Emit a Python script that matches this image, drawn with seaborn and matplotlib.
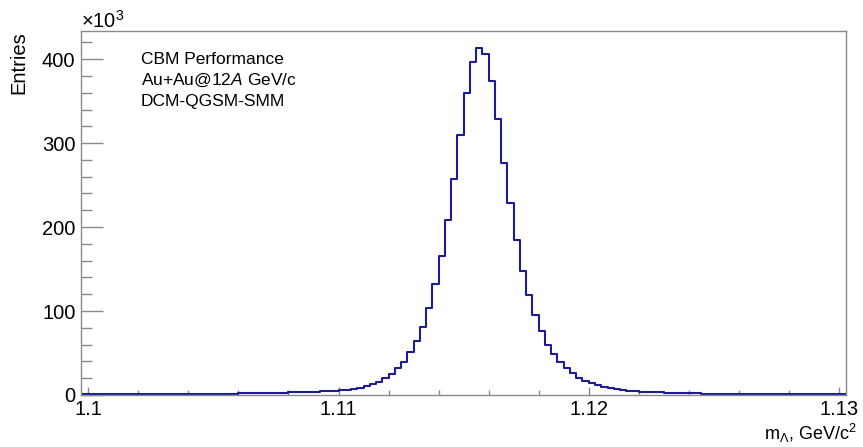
import numpy as np
import pandas as pd
import matplotlib
matplotlib.use("Agg")
import matplotlib.pyplot as plt
from matplotlib.ticker import MultipleLocator, FixedLocator
import seaborn as sns

# ---- data (entries in units of 10^3), bin width 0.00025 GeV/c^2 ----
bin_lo = 1.09975
bin_hi = 1.13025
entries_k = [
    0.6,
    0.6, 0.6, 0.7, 0.7, 0.7, 0.8, 0.8, 0.8, 0.9, 0.9,
    1.0, 1.0, 1.0, 1.1, 1.1, 1.2, 1.2, 1.3, 1.3, 1.4,
    1.5, 1.5, 1.6, 1.7, 1.8, 1.9, 2.0, 2.1, 2.3, 2.5,
    2.7, 2.9, 3.1, 3.3, 3.5, 3.8, 4.0, 4.3, 4.6, 5.0, 5.5, 6.1,
    6.8, 8.7, 10.3, 12.7, 15.8, 20.2, 25.4, 32.5, 39.7, 50.8, 64.3, 81.3,
    104.0, 131.8, 165.0, 208.0, 256.8, 309.5, 360.0, 396.8, 413.0,
    406.0, 374.0, 329.0, 276.5, 229.0, 184.5, 148.0, 119.0, 94.9, 75.8,
    59.9, 48.4, 38.9, 31.8, 25.8, 20.6, 17.0, 13.9, 11.5, 9.9, 8.3, 7.1, 6.0,
    5.2, 4.6, 4.1, 3.7, 3.3, 3.0, 2.7, 2.5, 2.3, 2.1, 1.9, 1.8, 1.7, 1.6,
    1.5, 1.4, 1.3, 1.2, 1.2, 1.1, 1.1, 1.0, 1.0, 0.9, 0.9, 0.9, 0.8, 0.8,
    0.8, 0.7, 0.7, 0.7, 0.7, 0.6,
    0.6,
]
x_ticks = [1.10, 1.11, 1.12, 1.13]
x_tick_labels = ["1.1", "1.11", "1.12", "1.13"]
y_ticks = [0, 100, 200, 300, 400]
info_lines = ["CBM Performance", r"Au+Au@12$\mathit{A}$ GeV/c", "DCM-QGSM-SMM"]

n_bins = len(entries_k)
edges = np.linspace(bin_lo, bin_hi, n_bins + 1)
centers = 0.5 * (edges[:-1] + edges[1:])
df = pd.DataFrame({"m": centers, "entries": entries_k})

plt.rcParams["font.family"] = ["Liberation Sans", "DejaVu Sans"]
plt.rcParams["mathtext.fontset"] = "custom"
plt.rcParams["mathtext.rm"] = "Liberation Sans"
plt.rcParams["mathtext.it"] = "Liberation Sans:italic"
plt.rcParams["mathtext.bf"] = "Liberation Sans:bold"

W, H = 863, 447
fig = plt.figure(figsize=(W / 100, H / 100), dpi=100)
L, R, T, B = 81, 846, 31, 395
ax = fig.add_axes([L / W, 1 - B / H, (R - L) / W, (B - T) / H])

sns.histplot(data=df, x="m", weights="entries", bins=n_bins,
             binrange=(bin_lo, bin_hi), element="step", fill=False,
             color="#1c1c96", linewidth=1.5, ax=ax)

ax.set_xlim(1.09971, 1.13028)
ax.set_ylim(0, 433.5)

axis_gray = "#8a8a8a"
for s in ax.spines.values():
    s.set_color(axis_gray)
    s.set_linewidth(1.0)

ax.xaxis.set_major_locator(FixedLocator(x_ticks))
ax.set_xticklabels(x_tick_labels)
ax.xaxis.set_minor_locator(MultipleLocator(0.002))
ax.set_yticks(y_ticks)
ax.yaxis.set_minor_locator(MultipleLocator(20))

ax.tick_params(axis="both", which="both", direction="in", color=axis_gray,
               top=False, right=False, labelsize=14.5, labelcolor="black")
ax.tick_params(axis="x", which="major", length=5.5, width=1.0, pad=3.5)
ax.tick_params(axis="x", which="minor", length=3.3, width=1.0)
ax.tick_params(axis="y", which="major", length=15.8, width=1.0, pad=4)
ax.tick_params(axis="y", which="minor", length=7.9, width=1.0)

ax.set_xlabel("")
ax.set_ylabel("")

fig.text(19 / W, 1 - 31 / H, "Entries", rotation=90, ha="center", va="top",
         fontsize=14.5)
fig.text(857 / W, 1 - 445 / H, r"m$_{\Lambda}$, GeV/c$^{2}$", ha="right",
         va="bottom", fontsize=13)
fig.text(81 / W, 1 - 28 / H, r"$\times$10$^{3}$", ha="left", va="baseline",
         fontsize=14.5)

for k, line in enumerate(info_lines):
    fig.text(141 / W, 1 - (64 + 21 * k) / H, line, ha="left", va="baseline",
             fontsize=12.5)

fig.savefig("out.png", dpi=100)
